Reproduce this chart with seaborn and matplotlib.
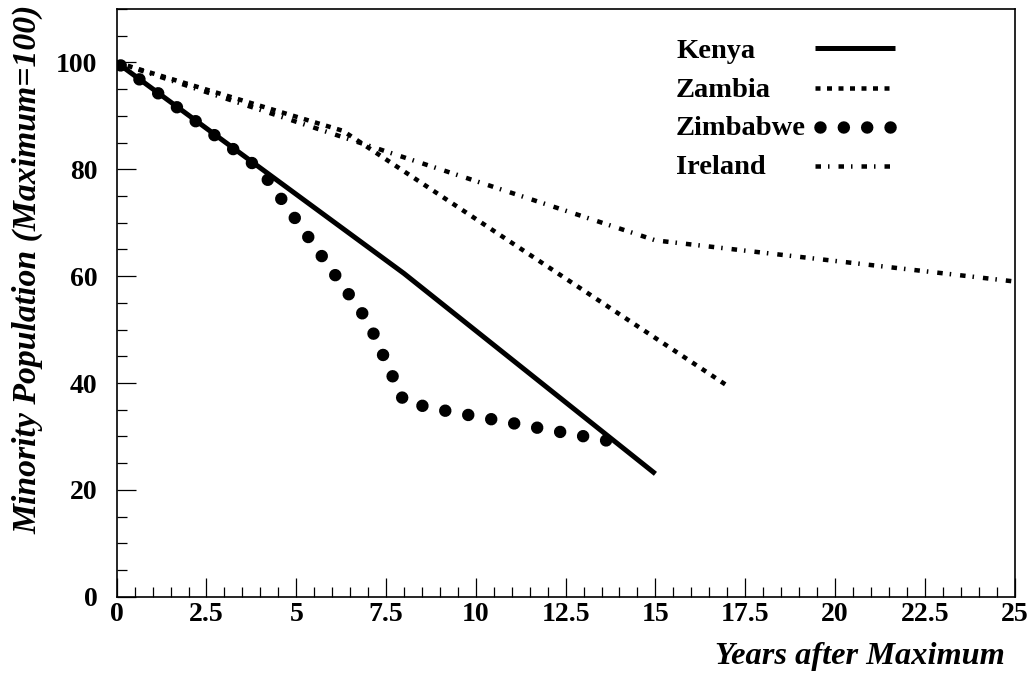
import matplotlib
matplotlib.use("Agg")
import matplotlib.pyplot as plt
import seaborn as sns
from matplotlib.ticker import FixedLocator, MultipleLocator

# Minority population relative to its peak year (peak = 100)
kenya_years = [0, 8, 15]
kenya_pop = [100, 60.5, 23]
zambia_years = [0, 6.3, 17]
zambia_pop = [100, 87.2, 39.5]
zimbabwe_years = [0, 4, 7, 8, 9, 13.75]
zimbabwe_pop = [100, 80, 51.5, 36.5, 35.0, 29.1]
ireland_years = [0, 15, 25]
ireland_pop = [100, 66.7, 59]

countries = ["Kenya", "Zambia", "Zimbabwe", "Ireland"]
x_ticks = [0, 2.5, 5, 7.5, 10, 12.5, 15, 17.5, 20, 22.5, 25]
x_tick_labels = ["0", "2.5", "5", "7.5", "10", "12.5", "15", "17.5", "20", "22.5", "25"]
y_ticks = [0, 20, 40, 60, 80, 100]
y_tick_labels = ["0", "20", "40", "60", "80", "100"]

sns.set_theme(style="white")
plt.rcParams["font.family"] = ["Liberation Serif", "DejaVu Serif"]
plt.rcParams["font.weight"] = "bold"
plt.rcParams["lines.scale_dashes"] = False
for key in ("text.color", "axes.labelcolor", "xtick.color", "ytick.color",
            "axes.edgecolor"):
    plt.rcParams[key] = "black"

PX = 72 / 100  # points per pixel at 100 dpi

series = {
    "Kenya": (kenya_years, kenya_pop),
    "Zambia": (zambia_years, zambia_pop),
    "Zimbabwe": (zimbabwe_years, zimbabwe_pop),
    "Ireland": (ireland_years, ireland_pop),
}
styles = {
    "Kenya": dict(linewidth=5 * PX, linestyle="-", solid_capstyle="butt"),
    "Zambia": dict(linewidth=4.5 * PX, linestyle=(0, (5 * PX, 6.5 * PX))),
    "Zimbabwe": dict(linewidth=12.5 * PX,
                     linestyle=(18.4 * PX, (0.01, 23.35 * PX)),
                     dash_capstyle="round"),
    "Ireland": dict(linewidth=4.5 * PX,
                    linestyle=(0, (5.5 * PX, 7 * PX, 1.5 * PX, 9 * PX))),
}

fig = plt.figure(figsize=(10.30, 6.79), dpi=100)
ax = fig.add_axes([0.1133, 0.1212, 0.8717, 0.8655])

for name in countries:
    xs, ys = series[name]
    sns.lineplot(x=xs, y=ys, ax=ax, color="black", estimator=None,
                 sort=False, **styles[name])

ax.set_xlim(0, 25)
ax.set_ylim(0, 110)
ax.xaxis.set_major_locator(FixedLocator(x_ticks))
ax.xaxis.set_minor_locator(MultipleLocator(0.5))
ax.set_xticklabels(x_tick_labels)
ax.yaxis.set_major_locator(FixedLocator(y_ticks))
ax.yaxis.set_minor_locator(MultipleLocator(5))
ax.set_yticklabels(y_tick_labels)

ax.tick_params(which="both", direction="in", bottom=True, left=True,
               top=False, right=False, color="black", width=0.9)
ax.tick_params(which="major", length=14, labelsize=20, labelcolor="black")
ax.tick_params(which="minor", length=7)
ax.tick_params(axis="x", which="major", pad=4)
ax.tick_params(axis="y", which="major", pad=14)
for lab in ax.get_xticklabels() + ax.get_yticklabels():
    lab.set_fontweight("bold")

for sp in ax.spines.values():
    sp.set_visible(True)
    sp.set_color("black")
    sp.set_linewidth(1.2)
ax.grid(False)

ax.set_xlabel("Years after Maximum", fontsize=23.3, fontweight="bold",
              fontstyle="italic", ha="right", va="baseline", color="black")
ax.xaxis.set_label_coords(0.9894, -0.1145)
ax.set_ylabel("Minority Population (Maximum=100)", fontsize=24.3,
              fontweight="bold", fontstyle="italic", ha="right", va="center",
              color="black")
ax.yaxis.set_label_coords(-0.0985, 1.0068)

# Key: names on the left, line samples aligned in a column to the right
text_x = 0.623
handle_x = (0.7778, 0.8669)
text_y = [0.9161, 0.8508, 0.7856, 0.7193]
handle_y = [0.9342, 0.8661, 0.7997, 0.7334]
for name, ty, hy in zip(countries, text_y, handle_y):
    ax.text(text_x, ty, name, transform=ax.transAxes, fontsize=20.5,
            fontweight="bold", ha="left", va="baseline", color="black")
    ax.plot(handle_x, [hy, hy], transform=ax.transAxes, color="black",
            **styles[name])

fig.savefig("out.png", dpi=100)
